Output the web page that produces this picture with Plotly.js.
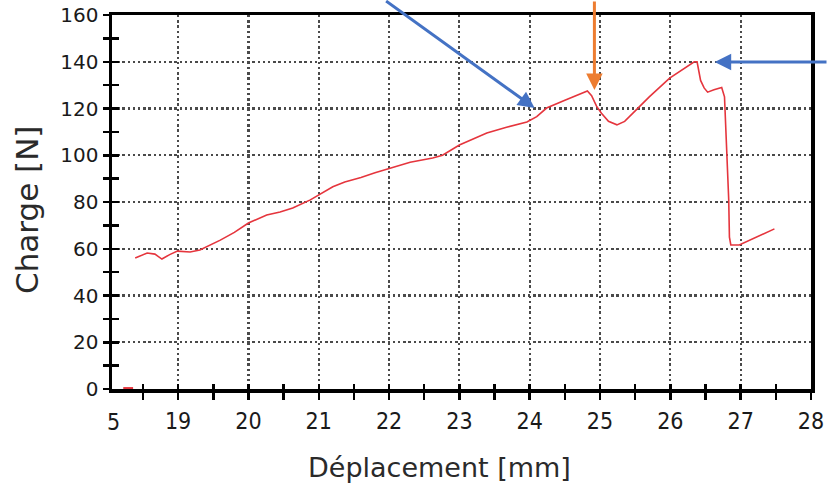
<!DOCTYPE html>
<html>
<head>
<meta charset="utf-8">
<script src="https://cdn.plot.ly/plotly-3.0.1.min.js"></script>
<style>html,body{margin:0;padding:0;background:#fff;}#chart{width:828px;height:486px;}</style>
</head>
<body>
<div id="chart"></div>
<script>
// Data
const deplacement = [18.39,18.56,18.67,18.77,18.88,18.99,19.17,19.31,19.6,19.8,20.0,20.26,20.45,20.63,20.88,21.02,21.2,21.37,21.6,21.8,22.01,22.3,22.62,22.76,23.0,23.2,23.39,23.67,23.96,24.1,24.24,24.5,24.71,24.82,24.88,24.95,25.02,25.12,25.24,25.35,25.5,25.7,25.99,26.2,26.34,26.38,26.43,26.48,26.53,26.62,26.73,26.77,26.79,26.81,26.83,26.84,26.86,26.98,27.2,27.48];
const charge = [56,58.2,57.7,55.6,57.5,59,58.6,59.5,63.7,67,71,74.4,75.7,77.4,80.9,83.4,86.5,88.6,90.5,92.5,94.5,97,98.8,100,104.4,107,109.5,112,114.2,116.5,120.2,123.5,126.2,127.5,125.5,121,118,114.5,113,114.5,119,125,133,137,140,140,132,128.8,127,128,129,125,110,99,81,65,61.6,61.6,64.5,68.5];
const deplacementInitial = [18.22,18.36];
const chargeInitial = [0.4,0.4];

const xTickVals = [19,20,21,22,23,24,25,26,27,28];
const xTickText = ['19','20','21','22','23','24','25','26','27','28'];
const yTickVals = [0,20,40,60,80,100,120,140,160];
const yTickText = ['0','20','40','60','80','100','120','140','160'];
const firstXLabel = '5';
const xTitle = 'Déplacement [mm]';
const yTitle = 'Charge [N]';

const xRange = [18.06, 28];
const yRange = [0, 160];

const red = '#e5353d';
const traces = [
  {x: deplacement, y: charge, type: 'scatter', mode: 'lines', line: {color: red, width: 1.6}, hoverinfo: 'skip'},
  {x: deplacementInitial, y: chargeInitial, type: 'scatter', mode: 'lines', line: {color: red, width: 2}, hoverinfo: 'skip'},
  {x: [], y: [], xaxis: 'x2', yaxis: 'y2', type: 'scatter'}
];

const tickFontX = {family: 'DejaVu Sans Condensed, DejaVu Sans, sans-serif', size: 23, color: '#1a1a1a'};
const tickFontY = {family: 'DejaVu Sans, Verdana, sans-serif', size: 20, color: '#1a1a1a'};
const titleFontX = {family: 'DejaVu Sans, sans-serif', size: 27, color: '#2a2a2a'};
const titleFontY = {family: 'DejaVu Sans, sans-serif', size: 31, color: '#2a2a2a'};
const gridStyle = {showgrid: true, gridcolor: '#4a4a4a', gridwidth: 2.2, griddash: '2.4px,2.8px'};

const layout = {
  width: 828, height: 486,
  margin: {l: 112, r: 17, t: 15, b: 97, pad: 0},
  paper_bgcolor: '#fff', plot_bgcolor: '#fff',
  showlegend: false,
  xaxis: Object.assign({
    range: xRange, tickmode: 'array', tickvals: xTickVals, ticktext: xTickText,
    ticks: 'outside', ticklen: 7, tickwidth: 2.5, tickcolor: '#000',
    minor: {tick0: 18.5, dtick: 0.5, ticks: 'outside', ticklen: 7, tickwidth: 2.5, tickcolor: '#000', showgrid: false},
    showline: true, linecolor: '#000', linewidth: 3.5, mirror: true,
    zeroline: false, tickfont: tickFontX, ticklabelstandoff: 2
  }, gridStyle),
  yaxis: Object.assign({
    range: yRange, tickmode: 'array', tickvals: yTickVals, ticktext: yTickText,
    ticks: 'outside', ticklen: 6, tickwidth: 2.5, tickcolor: '#000',
    minor: {tick0: 0, dtick: 10, ticks: 'outside', ticklen: 6, tickwidth: 2.5, tickcolor: '#000', showgrid: false},
    showline: true, linecolor: '#000', linewidth: 3.5, mirror: true,
    zeroline: false, tickfont: tickFontY
  }, gridStyle),
  xaxis2: {
    overlaying: 'x', range: xRange, tickmode: 'array', tickvals: xTickVals, showticklabels: false,
    ticks: 'inside', ticklen: 5, tickwidth: 2.5, tickcolor: '#000',
    minor: {tick0: 18.5, dtick: 0.5, ticks: 'inside', ticklen: 5, tickwidth: 2.5, tickcolor: '#000', showgrid: false},
    showgrid: false, zeroline: false, showline: false, side: 'bottom', anchor: 'y2'
  },
  yaxis2: {
    overlaying: 'y', range: yRange, tickmode: 'array', tickvals: yTickVals, showticklabels: false,
    ticks: 'inside', ticklen: 7, tickwidth: 2.5, tickcolor: '#000',
    minor: {tick0: 0, dtick: 10, ticks: 'inside', ticklen: 7, tickwidth: 2.5, tickcolor: '#000', showgrid: false},
    showgrid: false, zeroline: false, showline: false, side: 'left', anchor: 'x2'
  },
  annotations: [
    {xref: 'x', yref: 'paper', x: 18.08, y: 0, yanchor: 'top', yshift: -18, text: firstXLabel, showarrow: false, font: tickFontX},
    {xref: 'paper', yref: 'paper', x: 0.469, y: -0.211, xanchor: 'center', yanchor: 'middle', text: xTitle, showarrow: false, font: titleFontX},
    {xref: 'paper', yref: 'paper', x: -0.1216, y: 0.4786, xanchor: 'center', yanchor: 'middle', textangle: -90, text: yTitle, showarrow: false, font: titleFontY},
    {xref: 'x', yref: 'y', x: 24.07, y: 120.2, ax: -150, ay: -112, text: '', showarrow: true,
     arrowhead: 2, arrowsize: 1.1, arrowwidth: 3, arrowcolor: '#4472c4', standoff: 0},
    {xref: 'x', yref: 'y', x: 24.92, y: 127.9, ax: 0, ay: -96, text: '', showarrow: true,
     arrowhead: 2, arrowsize: 1.1, arrowwidth: 3, arrowcolor: '#ed7d31', standoff: 0},
    {xref: 'x', yref: 'y', x: 26.63, y: 139.9, ax: 118, ay: 0, text: '', showarrow: true,
     arrowhead: 2, arrowsize: 1.1, arrowwidth: 3, arrowcolor: '#4472c4', standoff: 0}
  ]
};

Plotly.newPlot('chart', traces, layout, {displayModeBar: false, staticPlot: true});
</script>
</body>
</html>
